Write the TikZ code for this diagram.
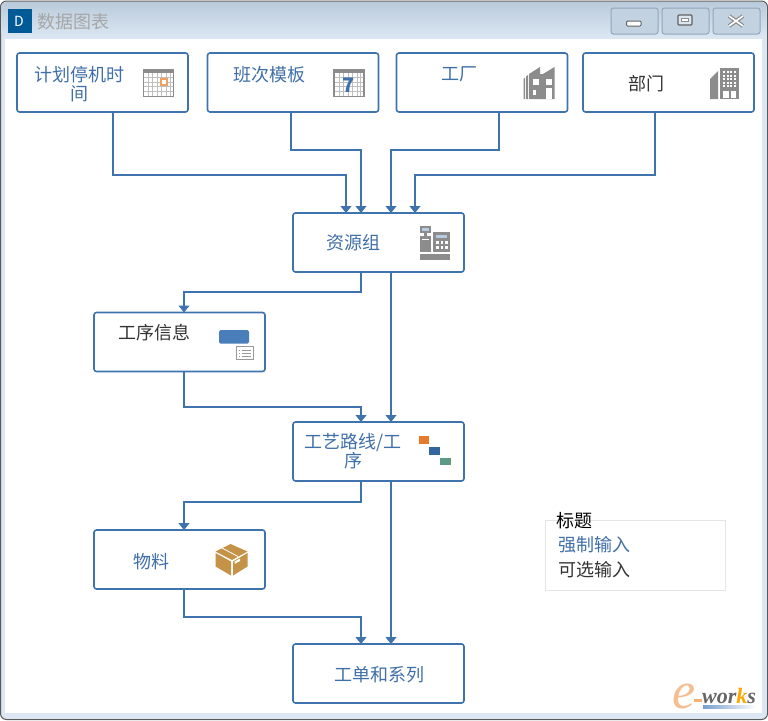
\documentclass[tikz,border=0pt]{standalone}
\usepackage{fontspec}
\setmainfont{Noto Sans CJK SC}
\newfontfamily\logofont{Liberation Serif}
\usetikzlibrary{arrows.meta}
\definecolor{lineblue}{HTML}{3F73AE}
\definecolor{txtblue}{HTML}{3F6FA8}
\definecolor{txtdark}{HTML}{333333}
\definecolor{icongray}{HTML}{8C8C8C}
\definecolor{frameblue}{HTML}{DCE7F3}
\definecolor{titletop}{HTML}{B9CBDB}
\definecolor{btnfill}{HTML}{C2D2E1}
\definecolor{btnline}{HTML}{93A5B8}
\definecolor{dblue}{HTML}{005A96}
\definecolor{screenblue}{HTML}{B8CCE0}
\definecolor{opblue}{HTML}{4A7EBB}
\definecolor{ganttor}{HTML}{E57A2B}
\definecolor{ganttbl}{HTML}{33669F}
\definecolor{ganttgr}{HTML}{5C9A86}
\definecolor{boxbrown}{HTML}{C49347}
\definecolor{logoor}{HTML}{F6BE90}
\definecolor{calor}{HTML}{F0A060}
\tikzset{
 x=1pt,y=-1pt,
 box/.style={draw=lineblue,line width=1.6pt,rounded corners=2.5pt,fill=white,minimum width=171pt,minimum height=59pt,inner sep=0pt,outer sep=0pt},
 conn/.style={draw=lineblue,line width=1.2pt,-{Triangle[width=11pt,length=7pt]}},
 lab/.style={font=\fontsize{18}{19}\selectfont,align=center,inner sep=0pt,text=txtblue},
 labd/.style={lab,text=txtdark},
 winbtn/.style={draw=btnline,line width=1pt,rounded corners=2.5pt,fill=btnfill},
 ic/.style={fill=icongray,draw=none},
 icw/.style={fill=white,draw=none},
}
\begin{document}
\begin{tikzpicture}
\useasboundingbox (0,0) rectangle (768,720);
% window frame
\fill[white] (0,0) rectangle (768,720);
\fill[rounded corners=6pt,fill=frameblue,draw=black!65,line width=1pt] (0.5,1) -- (767.5,1) -- (767.5,719.5) -- (0.5,719.5) -- cycle;
\shade[top color=titletop,bottom color=frameblue,rounded corners=5pt] (1.5,2) -- (766.5,2) -- (766.5,38) -- (1.5,38) -- cycle;
\fill[white] (5,39) rectangle (762,713);
% title
\fill[dblue] (7.5,9) rectangle (31.5,33);
\node[text=white,font=\fontsize{14}{14}\selectfont,inner sep=0pt] (dlet) at (19,21.5) {D};
\node[text=black!35,font=\fontsize{18}{18}\selectfont,inner sep=0pt,anchor=west] (title) at (37,22) {数据图表};
% window buttons
\node[winbtn,minimum width=47pt,minimum height=26pt,inner sep=0pt] (bmin) at (634.5,21) {};
\node[winbtn,minimum width=47pt,minimum height=26pt,inner sep=0pt] (bmax) at (685.5,21) {};
\node[winbtn,minimum width=47pt,minimum height=26pt,inner sep=0pt] (bclose) at (736.5,21) {};
\draw[icongray!70!black,fill=white,line width=1pt,rounded corners=1pt] (626.5,21) rectangle (641,26);
\draw[icongray!70!black,fill=frameblue,line width=1.4pt,rounded corners=1pt] (678,15) rectangle (692,25);
\draw[icongray,line width=.8pt,fill=white] (681.5,18.5) rectangle (688.5,21.5);
\draw[icongray,line width=4pt] (729,16) -- (743,26) (743,16) -- (729,26);
\draw[white,line width=1.6pt] (729,16) -- (743,26) (743,16) -- (729,26);

% boxes
\node[box] (plan) at (102.5,82.5) {};
\node[box] (shift) at (293,82.5) {};
\node[box] (plant) at (482,82.5) {};
\node[box] (dept) at (668.5,82.5) {};
\node[box] (res) at (378.5,242.5) {};
\node[box] (opinfo) at (179.5,342) {};
\node[box] (route) at (378.5,451.5) {};
\node[box] (mat) at (179.5,559.5) {};
\node[box] (order) at (378.5,673.5) {};

% labels
\node[lab] (lplan) at (79.5,84) {计划停机时\\间};
\node[lab] (lshift) at (269.5,74.5) {班次模板};
\node[lab] (lplant) at (459,74.5) {工厂};
\node[labd] (ldept) at (646,83.5) {部门};
\node[lab] (lres) at (353,242.5) {资源组};
\node[labd] (lop) at (154,332.5) {工序信息};
\node[lab] (lroute) at (353,451) {工艺路线/工\\序};
\node[lab] (lmat) at (151,561.5) {物料};
\node[lab] (lorder) at (379,674.5) {工单和系列};

% connector helper positions
\coordinate (xa) at (113,0);
\coordinate (xb) at (291,0);
\coordinate (xc) at (499,0);
\coordinate (xd) at (655,0);
\coordinate (i1) at (346,0);
\coordinate (i2) at (361,0);
\coordinate (i3) at (391,0);
\coordinate (i4) at (415,0);
\coordinate (l1) at (184,0);
\coordinate (y175) at (0,175);
\coordinate (y150) at (0,150);
\coordinate (y292) at (0,292);
\coordinate (y407) at (0,407);
\coordinate (y502) at (0,502);
\coordinate (y617) at (0,617);

\draw[conn] (plan.south -| xa) -- (xa |- y175) -- (i1 |- y175) -- (res.north -| i1);
\draw[conn] (shift.south -| xb) -- (xb |- y150) -- (i2 |- y150) -- (res.north -| i2);
\draw[conn] (plant.south -| xc) -- (xc |- y150) -- (i3 |- y150) -- (res.north -| i3);
\draw[conn] (dept.south -| xd) -- (xd |- y175) -- (i4 |- y175) -- (res.north -| i4);
\draw[conn] (res.south -| i2) -- (i2 |- y292) -- (l1 |- y292) -- (opinfo.north -| l1);
\draw[conn] (res.south -| i3) -- (route.north -| i3);
\draw[conn] (opinfo.south -| l1) -- (l1 |- y407) -- (i2 |- y407) -- (route.north -| i2);
\draw[conn] (route.south -| i2) -- (i2 |- y502) -- (l1 |- y502) -- (mat.north -| l1);
\draw[conn] (route.south -| i3) -- (order.north -| i3);
\draw[conn] (mat.south -| l1) -- (l1 |- y617) -- (i2 |- y617) -- (order.north -| i2);

% icon: calendar with orange mark
\fill[icongray] (142.5,69) rectangle (174,97);
\fill[white] (144,73) rectangle (172.5,95.5);
\foreach \i in {148,152.5,157,161.5,166,170}{\draw[black!25,line width=.6pt] (\i,73) -- (\i,95.5);}
\foreach \j in {77.5,82,86.5,91}{\draw[black!25,line width=.6pt] (144,\j) -- (172.5,\j);}
\draw[calor,line width=1.1pt,fill=white] (161,79) rectangle (167,85);
% icon: calendar 7
\fill[icongray] (333,69) rectangle (364.5,97);
\fill[white] (334.5,73) rectangle (363,95.5);
\foreach \i in {339,343.5,348,352.5,357,360.5}{\draw[black!25,line width=.6pt] (\i,73) -- (\i,95.5);}
\foreach \j in {77.5,82,86.5,91}{\draw[black!25,line width=.6pt] (334.5,\j) -- (363,\j);}
\node[text=txtblue,font=\fontsize{20}{20}\selectfont\bfseries,inner sep=0pt] (seven) at (348.5,85.5) {7};
% icon: factory
\fill[ic] (523.5,99) -- (523.5,79) -- (525,77.5) -- (525,99) -- cycle;
\fill[ic] (526,99) -- (526,76.5) -- (528,75) -- (528,99) -- cycle;
\fill[ic] (529,99) -- (529,74) -- (540,67) -- (540,74) -- (543,74) -- (554.5,67) -- (554.5,99) -- cycle;
\fill[icw] (532.5,79) rectangle (539,85);
\fill[icw] (545.5,79) rectangle (552,85);
\fill[icw] (532.5,90) rectangle (536,95);
\fill[icw] (545.5,87.5) rectangle (551.5,99);
% icon: building
\fill[ic] (710,79) -- (718,71) -- (718,99) -- (710,99) -- cycle;
\fill[ic] (720,68) rectangle (739,99);
\foreach \i in {723,726.5,730,733.5}{\foreach \j in {71,74.5,78,81.5,85}{\fill[white] (\i,\j) rectangle ++(2,2);}}
\fill[white] (723,91) rectangle (728.5,98);
\fill[white] (731,91) rectangle (736,98);
% icon: cash register
\fill[ic] (420,226) rectangle (431,233);
\fill[screenblue] (422,227.5) rectangle (429,231);
\fill[ic] (424,233) rectangle (427,236);
\fill[ic] (420,236) rectangle (431,252);
\fill[white] (422,238.5) rectangle (429,240);
\fill[ic] (433,232) rectangle (450,252);
\fill[screenblue] (436,235) rectangle (447,238);
\foreach \i in {436,440.5,445}{\foreach \j in {241,246}{\fill[white] (\i,\j) rectangle ++(2.6,2.6);}}
\fill[ic] (420,254) rectangle (450,260);
% icon: op info
\fill[opblue,rounded corners=1.5pt] (219,330) rectangle (249,343.5);
\draw[black!40,line width=1pt,fill=white] (236,346.5) rectangle (253,359.5);
\foreach \j in {350,353,356}{\draw[black!40,line width=.7pt] (242,\j) -- (251,\j); \fill[black!40] (238.5,\j-.5) rectangle ++(1,1);}
% icon: gantt
\fill[ganttor] (418.5,436) rectangle (429,444);
\fill[ganttbl] (429,447) rectangle (440,454.5);
\fill[ganttgr] (439.5,457.5) rectangle (450.5,465);
% icon: box
\fill[boxbrown] (215.5,553) -- (231,561.5) -- (231,575.5) -- (215.5,566.5) -- cycle;
\fill[boxbrown] (233,561.5) -- (247.5,553) -- (247.5,566.5) -- (233,575.5) -- cycle;
\fill[boxbrown] (215.5,551.5) -- (230.5,544) -- (247.5,551.5) -- (232,560) -- cycle;
\draw[white,line width=.8pt] (222,548) -- (238,556.5);
\fill[white] (234.5,561.5) -- (240,558.5) -- (240,561) -- (234.5,564) -- cycle;

% legend
\node[draw=black!10,line width=1pt,minimum width=180pt,minimum height=70pt,inner sep=0pt,outer sep=0pt] (legend) at (635,555) {};
\node[inner sep=0pt,anchor=west,font=\fontsize{18}{18}\selectfont,text=black] (ltitle) at (556.5,520.5) {标题};
\node[inner sep=0pt,anchor=west,font=\fontsize{18}{18}\selectfont,text=txtblue] (lreq) at (558.5,544.5) {强制输入};
\node[inner sep=0pt,anchor=west,font=\fontsize{18}{18}\selectfont,text=txtdark] (lopt) at (558.5,569.5) {可选输入};

% e-works logo
\node[inner sep=0pt,font=\logofont\fontsize{52}{52}\selectfont\itshape,text=logoor] (loge) at (684,696.5) {e};
\shade[left color=opblue!75,right color=white] (703,705) rectangle (756,708.5);
\fill[logoor!80!orange] (694,699) rectangle (702,701.5);
\node[inner sep=0pt,anchor=west,font=\logofont\fontsize{22}{22}\selectfont\bfseries\itshape] (logw) at (702,695.5) {\textcolor{black!60}{wor}\textcolor{orange!70!yellow}{k}\textcolor{black!60}{s}};
\end{tikzpicture}
\end{document}
